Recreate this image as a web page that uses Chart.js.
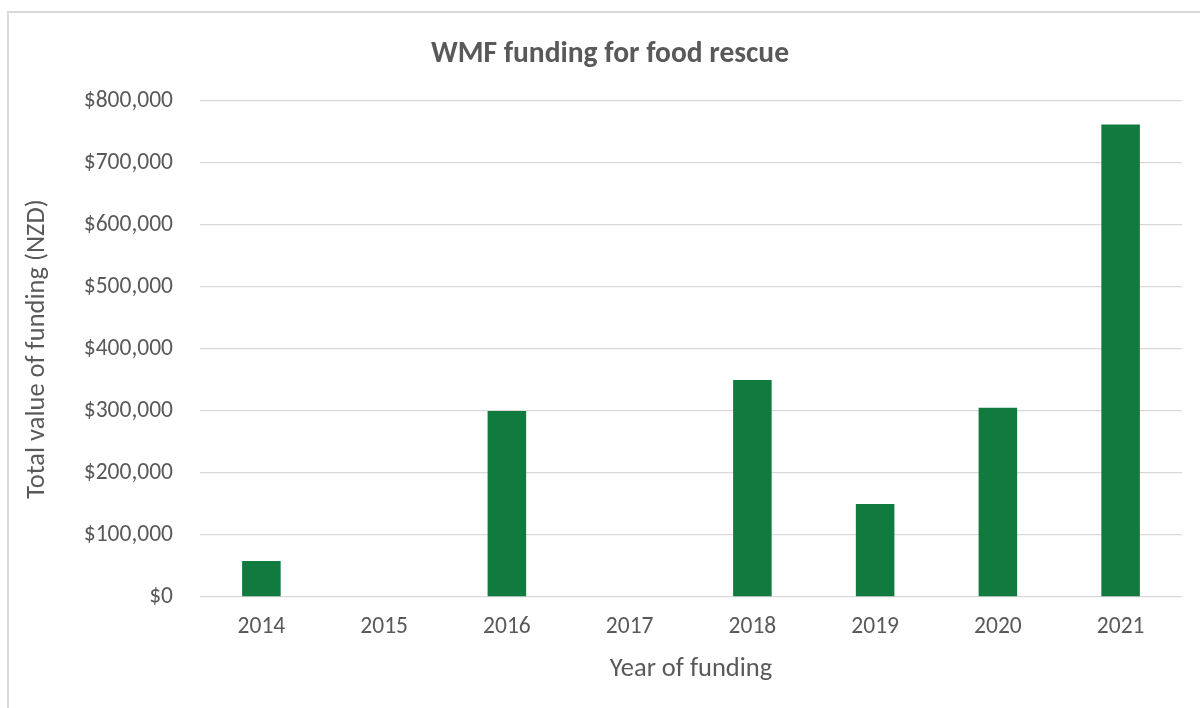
<!DOCTYPE html>
<html lang="en">
<head>
    <meta charset="UTF-8">
    <title>WMF funding for food rescue</title>
    <script src="https://cdn.jsdelivr.net/npm/chart.js"></script>
    <style>
        body { margin: 0; background: #fff; }
        .frame { position: relative; width: 1200px; height: 708px; }
        .border { position: absolute; left: 7px; top: 11px; right: -10px; bottom: -10px; border-left: 2px solid #d9d9d9; border-top: 2px solid #d9d9d9; pointer-events: none; }
    </style>
</head>
<body>
    <div class="frame">
        <canvas id="myChart" width="1200" height="708"></canvas>
        <div class="border"></div>
    </div>

<script>
    // data
    const anos = ['2014', '2015', '2016', '2017', '2018', '2019', '2020', '2021'];
    const valores = [58000, 0, 300000, 0, 350000, 150000, 305000, 762000];
    const yTicks = [0, 100000, 200000, 300000, 400000, 500000, 600000, 700000, 800000];

    const fonte = 'Calibri, Carlito, Lato, sans-serif';
    const cinza = '#595959';

    const data = {
        labels: anos,
        datasets: [{
            label: 'Total value of funding (NZD)',
            data: valores,
            backgroundColor: '#117a3e',
            borderWidth: 0,
            categoryPercentage: 1,
            barPercentage: 0.314
        }]
    };

    const config = {
        type: 'bar',
        data: data,
        options: {
            responsive: false,
            animation: false,
            // left padding only to centre the title like the original
            layout: { padding: { left: 38, right: 18, top: 0, bottom: 0 } },
            plugins: {
                legend: { display: false },
                tooltip: { enabled: false },
                title: {
                    display: true,
                    text: 'WMF funding for food rescue',
                    color: cinza,
                    font: { family: fonte, size: 29.5, weight: 'bold', lineHeight: 1.2 },
                    padding: { top: 37, bottom: 28.5 }
                }
            },
            scales: {
                x: {
                    grid: { display: false, drawTicks: false },
                    border: { display: false },
                    ticks: { color: cinza, font: { family: fonte, size: 23.5 }, padding: 16 },
                    title: {
                        display: true,
                        text: 'Year of funding',
                        color: cinza,
                        font: { family: fonte, size: 26.5 },
                        padding: { top: 0, bottom: 23 }
                    },
                    afterFit: (scale) => { scale.height = 111; }
                },
                y: {
                    min: 0,
                    max: 800000,
                    afterBuildTicks: (scale) => { scale.ticks = yTicks.map(v => ({ value: v })); },
                    grid: { color: '#d9d9d9', lineWidth: 1.3, drawTicks: false },
                    border: { display: false },
                    ticks: {
                        color: cinza,
                        font: { family: fonte, size: 23.5 },
                        padding: 27,
                        callback: (v) => '$' + v.toLocaleString('en-US')
                    },
                    title: {
                        display: true,
                        text: 'Total value of funding (NZD)',
                        color: cinza,
                        font: { family: fonte, size: 26.5 },
                        padding: { top: -17, bottom: 0 }
                    },
                    afterFit: (scale) => { scale.width = 162; }
                }
            }
        }
    };

    const myChart = new Chart(document.getElementById('myChart'), config);
</script>
</body>
</html>
